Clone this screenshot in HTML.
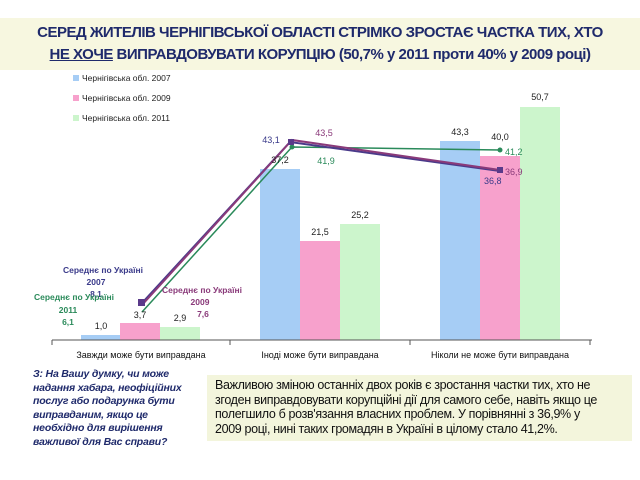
<!DOCTYPE html><html><head><meta charset="utf-8"><style>
body{margin:0;width:640px;height:480px;background:#fff;font-family:"Liberation Sans",sans-serif;position:relative;overflow:hidden}
.t{position:absolute;left:0;top:18px;width:640px;height:52px;background:#f7f7e0;color:#1f2a6b;font-weight:bold;font-size:15px;text-align:center;line-height:22px;padding-top:4px;box-sizing:border-box;letter-spacing:-0.5px}
.q{position:absolute;left:33px;top:368px;width:180px;color:#1f2a6b;font-style:italic;font-weight:bold;font-size:10.5px;line-height:13.5px;letter-spacing:-0.2px}
.b{position:absolute;left:207px;top:375px;width:425px;height:66px;background:#f3f5dc;font-size:12.5px;line-height:14.5px;color:#111;padding:3px 8px;box-sizing:border-box;letter-spacing:-0.35px;white-space:nowrap;overflow:hidden}
</style></head><body>
<div class="t">СЕРЕД ЖИТЕЛІВ ЧЕРНІГІВСЬКОЇ ОБЛАСТІ СТРІМКО ЗРОСТАЄ ЧАСТКА ТИХ, ХТО<br><u>НЕ ХОЧЕ</u> ВИПРАВДОВУВАТИ КОРУПЦІЮ (50,7% у 2011 проти 40% у 2009 році)</div>
<svg width="640" height="480" style="position:absolute;left:0;top:0" font-family="Liberation Sans" font-size="9">
<g font-size="8.5" fill="#222">
<rect x="73" y="75" width="6" height="6" fill="#a6cdf5"/><text x="82" y="81">Чернігівська обл. 2007</text>
<rect x="73" y="95" width="6" height="6" fill="#f7a1cc"/><text x="82" y="101">Чернігівська обл. 2009</text>
<rect x="73" y="115" width="6" height="6" fill="#ccf5cc"/><text x="82" y="121">Чернігівська обл. 2011</text>
</g>
<rect x="81" y="335" width="39" height="5" fill="#a6cdf5"/>
<rect x="120" y="323" width="40" height="17" fill="#f7a1cc"/>
<rect x="160" y="327" width="40" height="13" fill="#ccf5cc"/>
<rect x="260" y="169" width="40" height="171" fill="#a6cdf5"/>
<rect x="300" y="241" width="40" height="99" fill="#f7a1cc"/>
<rect x="340" y="224" width="40" height="116" fill="#ccf5cc"/>
<rect x="440" y="141" width="40" height="199" fill="#a6cdf5"/>
<rect x="480" y="156" width="40" height="184" fill="#f7a1cc"/>
<rect x="520" y="107" width="40" height="233" fill="#ccf5cc"/>
<line x1="52" y1="340" x2="592" y2="340" stroke="#555"/>
<g stroke="#555"><line x1="52" y1="340" x2="52" y2="345"/><line x1="230" y1="340" x2="230" y2="345"/><line x1="410" y1="340" x2="410" y2="345"/><line x1="590" y1="340" x2="590" y2="345"/></g>
<polyline points="142,312 292,147 500,150" fill="none" stroke="#2a8a5a" stroke-width="1.5"/>
<polyline points="142,303 290,142 500,171" fill="none" stroke="#4a3a8a" stroke-width="2"/>
<polyline points="142,305 292,140 500,170" fill="none" stroke="#8a3a7a" stroke-width="2"/>
<circle cx="292" cy="147" r="2.5" fill="#2a8a5a"/><circle cx="500" cy="150" r="2.5" fill="#2a8a5a"/>
<rect x="138" y="299" width="7" height="7" fill="#5a3a8a"/><rect x="288" y="139" width="6" height="6" fill="#5a3a8a"/><rect x="497" y="167" width="6" height="6" fill="#5a3a8a"/>
<g fill="#222" font-size="9" text-anchor="middle">
<text x="101" y="329">1,0</text><text x="140" y="318">3,7</text><text x="180" y="321">2,9</text>
<text x="280" y="163">37,2</text><text x="320" y="235">21,5</text><text x="360" y="218">25,2</text>
<text x="460" y="135">43,3</text><text x="500" y="140">40,0</text><text x="540" y="100">50,7</text>
</g>
<g font-size="9">
<text x="271" y="143" fill="#3a3a8a" text-anchor="middle">43,1</text>
<text x="324" y="136" fill="#8a3a7a" text-anchor="middle">43,5</text>
<text x="326" y="164" fill="#2a8a5a" text-anchor="middle">41,9</text>
<text x="505" y="155" fill="#2a8a5a">41,2</text>
<text x="505" y="175" fill="#8a3a7a">36,9</text>
<text x="484" y="184" fill="#3a3a8a">36,8</text>
</g>
<g font-size="8.5" font-weight="bold" text-anchor="middle">
<text x="103" y="273" fill="#3a3a8a">Середнє по Україні</text><text x="96" y="285" fill="#3a3a8a">2007</text><text x="96" y="297" fill="#3a3a8a">8,1</text>
<text x="74" y="300" fill="#2a8a5a">Середнє по Україні</text><text x="68" y="313" fill="#2a8a5a">2011</text><text x="68" y="325" fill="#2a8a5a">6,1</text>
<text x="202" y="293" fill="#8a3a7a">Середнє по Україні</text><text x="200" y="305" fill="#8a3a7a">2009</text><text x="203" y="317" fill="#8a3a7a">7,6</text>
</g>
<g font-size="9" fill="#111" text-anchor="middle">
<text x="141" y="358">Завжди може бути виправдана</text>
<text x="320" y="358">Іноді може бути виправдана</text>
<text x="500" y="358">Ніколи не може бути виправдана</text>
</g>
</svg>
<div class="q">З: На Вашу думку, чи може<br>надання хабара, неофіційних<br>послуг або подарунка бути<br>виправданим, якщо це<br>необхідно для вирішення<br>важливої для Вас справи?</div>
<div class="b">Важливою зміною останніх двох років є зростання частки тих, хто не<br>згоден виправдовувати корупційні дії для самого себе, навіть якщо це<br>полегшило б розв'язання власних проблем. У порівнянні з 36,9% у<br>2009 році, нині таких громадян в Україні в цілому стало 41,2%.</div>
</body></html>
